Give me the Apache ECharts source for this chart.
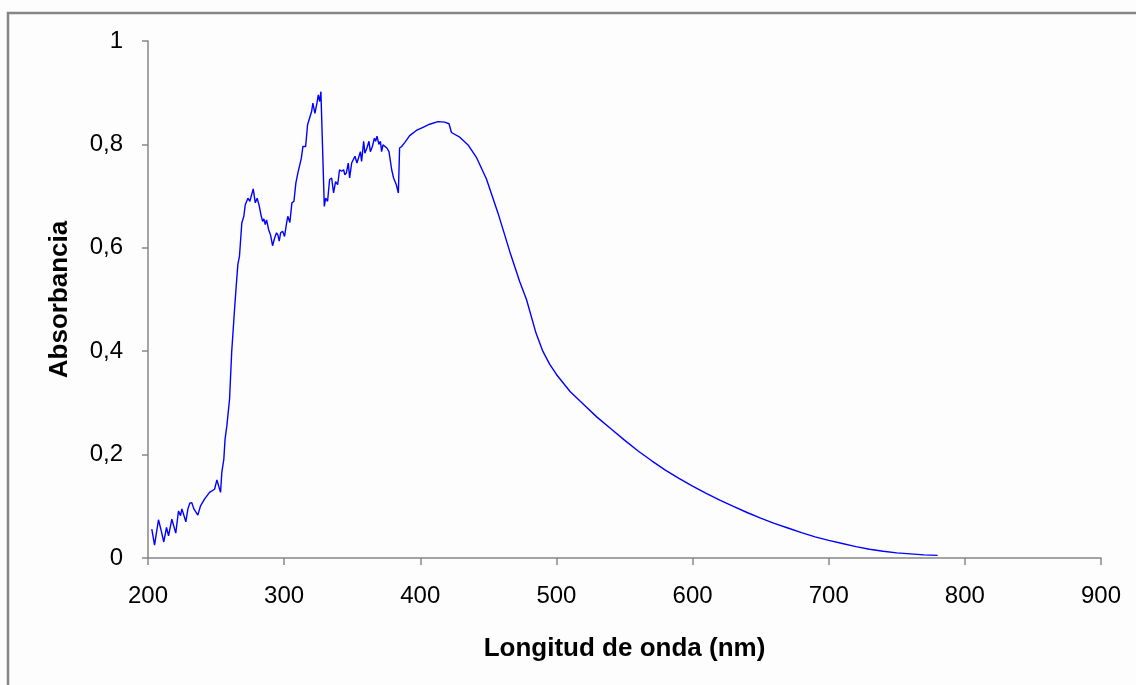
<!DOCTYPE html>
<html>
<head>
<meta charset="utf-8">
<script src="https://cdn.jsdelivr.net/npm/echarts@6/dist/echarts.min.js"></script>
<style>
html,body{margin:0;padding:0;background:#fdfdfd;}
#chart{width:1136px;height:685px;}
</style>
</head>
<body>
<div id="chart"></div>
<script>
const wavelengths = [
 202.8,204.8,207.7,209.7,211.6,213.6,215.1,217.5,220.4,222.4,223.9,224.9,226.3,227.8,229.3,230.7,232.2,233.7,236.6,238.6,241.5,245.2,248.9,250.6,253.3,254.2,255.7,256.6,257.9,259.9,261.5,263.6,264.8,266.0,267.2,268.9,270.4,271.4,272.4,273.4,274.8,275.8,277.3,278.8,280.2,281.7,283.2,284.2,285.1,286.1,287.1,288.6,290.0,291.5,293.0,294.4,295.4,296.4,297.4,298.9,300.3,301.8,302.7,304.2,305.7,307.2,308.6,310.1,311.3,312.6,313.8,314.8,315.8,317.2,318.7,320.2,321.1,322.6,324.1,325.1,326.1,327.0,329.5,330.5,331.9,333.4,334.9,336.3,337.8,339.3,340.7,342.2,343.7,344.6,345.7,347.1,348.1,349.6,351.0,352.0,353.5,354.9,356.0,356.9,358.4,359.3,360.8,362.3,363.3,364.8,366.3,367.2,368.2,369.6,370.7,371.6,372.6,374.0,375.5,377.0,378.0,379.0,380.4,382.4,383.9,384.8,386.3,388.7,392.2,397.1,402.0,406.9,413.0,418.0,421.1,422.9,429.0,435.1,441.2,448.6,457.1,465.7,473.0,478.0,485,490,495,500,510,520,530,540,550,560,570,580,590,600,610,620,630,640,650,660,670,680,690,700,710,720,730,740,750,760,770,780
];
const absorbance = [
 0.056,0.025,0.074,0.053,0.031,0.059,0.043,0.075,0.048,0.091,0.082,0.095,0.093,0.070,0.095,0.106,0.107,0.095,0.083,0.101,0.114,0.127,0.133,0.151,0.127,0.165,0.191,0.230,0.255,0.307,0.400,0.482,0.526,0.568,0.584,0.648,0.661,0.683,0.681,0.696,0.690,0.693,0.714,0.687,0.696,0.681,0.661,0.651,0.656,0.645,0.654,0.635,0.625,0.604,0.619,0.629,0.625,0.613,0.629,0.632,0.622,0.648,0.661,0.649,0.687,0.690,0.725,0.745,0.748,0.773,0.796,0.799,0.796,0.838,0.851,0.864,0.880,0.860,0.880,0.896,0.883,0.902,0.680,0.696,0.690,0.732,0.735,0.706,0.728,0.722,0.751,0.748,0.751,0.741,0.745,0.764,0.735,0.764,0.767,0.777,0.764,0.767,0.786,0.767,0.806,0.783,0.793,0.806,0.786,0.796,0.812,0.806,0.816,0.800,0.806,0.786,0.799,0.796,0.793,0.786,0.786,0.751,0.735,0.722,0.706,0.793,0.796,0.804,0.817,0.827,0.833,0.839,0.844,0.843,0.840,0.823,0.814,0.799,0.775,0.733,0.667,0.593,0.535,0.500,0.435,0.400,0.375,0.355,0.322,0.297,0.272,0.250,0.228,0.207,0.188,0.170,0.154,0.139,0.125,0.112,0.100,0.088,0.077,0.067,0.058,0.049,0.041,0.034,0.028,0.022,0.017,0.013,0.010,0.008,0.006,0.005
];
const xTicks = [200,300,400,500,600,700,800,900];
const yTicks = [0,0.2,0.4,0.6,0.8,1];

const data = wavelengths.map((w,i)=>[w, absorbance[i]]);
const chart = echarts.init(document.getElementById('chart'), null, {renderer:'canvas'});
const axisColor = '#868686';
const font = 'Liberation Sans, Arial, sans-serif';
chart.setOption({
  backgroundColor:'#fdfdfd',
  animation:false,
  grid:{left:148, right:35, top:41, bottom:127, containLabel:false},
  xAxis:{
    type:'value', min:xTicks[0], max:xTicks[xTicks.length-1], interval:100,
    name:'Longitud de onda (nm)', nameLocation:'middle', nameGap:78,
    nameTextStyle:{fontFamily:font, fontSize:26, fontWeight:'bold', color:'#000'},
    axisLine:{lineStyle:{color:axisColor, width:1.5}},
    axisTick:{show:true, length:7, lineStyle:{color:axisColor, width:1.5}},
    axisLabel:{fontFamily:font, fontSize:24, color:'#000', margin:26},
    splitLine:{show:false}
  },
  yAxis:{
    type:'value', min:yTicks[0], max:yTicks[yTicks.length-1], interval:0.2,
    name:'Absorbancia', nameLocation:'middle', nameGap:75, nameRotate:90,
    nameTextStyle:{fontFamily:font, fontSize:26, fontWeight:'bold', color:'#000'},
    axisLine:{show:true, lineStyle:{color:axisColor, width:1.5}},
    axisTick:{show:true, length:6, lineStyle:{color:axisColor, width:1.5}},
    axisLabel:{fontFamily:font, fontSize:24, color:'#000', margin:25,
      formatter:v=> String(Math.round(v*10)/10).replace('.',',')},
    splitLine:{show:false}
  },
  series:[{
    type:'line', data:data, showSymbol:false, symbol:'none',
    lineStyle:{color:'#0000ff', width:1.4}, smooth:false
  }],
  graphic:[{
    type:'polyline', silent:true,
    shape:{points:[[8,685],[8,13],[1136,13]]},
    style:{stroke:'#868686', lineWidth:2.5, fill:null}
  }]
});
</script>
</body>
</html>
